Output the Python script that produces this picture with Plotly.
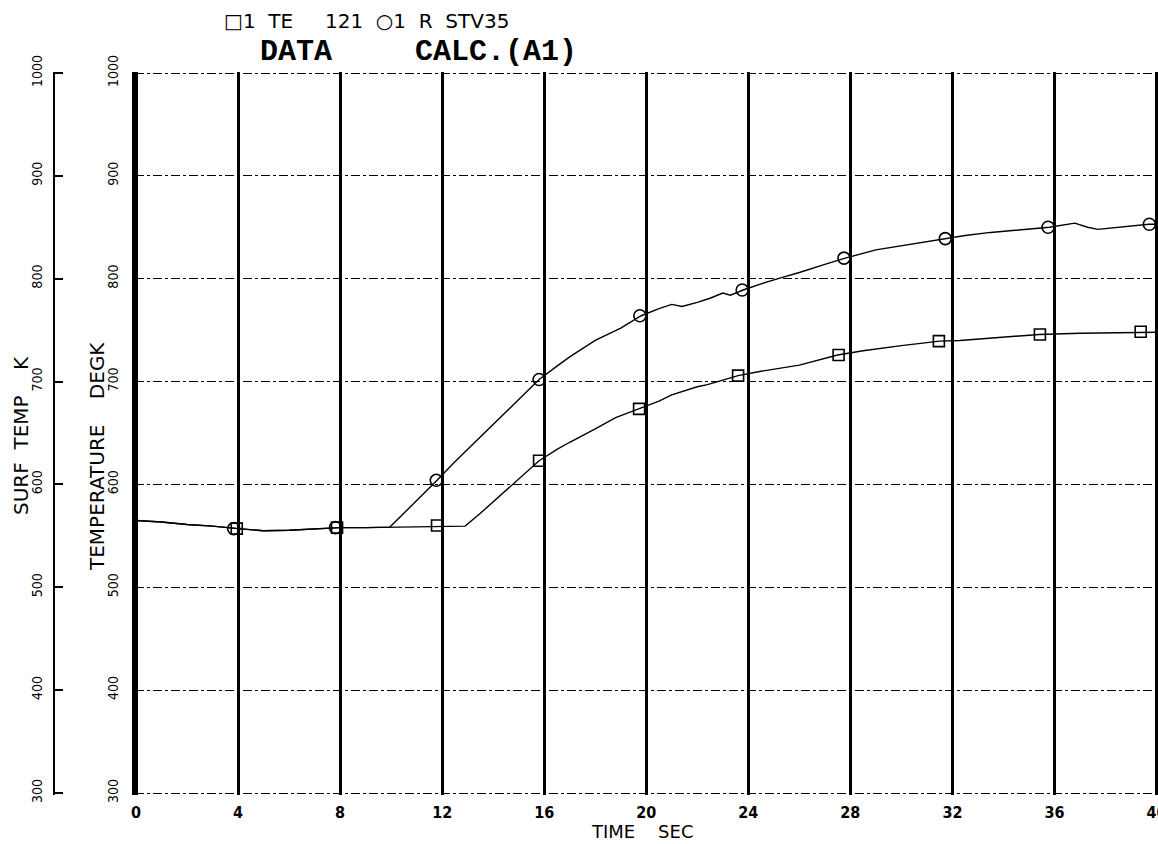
import plotly.graph_objects as go

W, H = 1158, 844

# ---- data ----
upper_t = [0, 1, 2, 3, 4, 5, 6, 7, 8, 9, 9.95, 10.5, 11, 11.8, 12.5, 13, 14, 15, 15.8,
           16.5, 17, 18, 18.5, 19, 19.8, 20.5, 21, 21.4, 22, 22.5, 23, 23.3, 23.8, 24.5,
           25.3, 26, 27, 27.8, 29, 30, 31, 31.7, 32.5, 33.5, 35, 35.8, 36.8, 37.3, 37.7,
           38.5, 39.7, 40]
upper_v = [565, 563.5, 561, 559.5, 557, 555, 555.5, 557, 558, 558, 558.5, 572, 584, 604,
           622, 634, 658, 682, 702, 715, 724, 740, 746, 752, 764, 771, 775, 773, 777, 781,
           786, 784, 789, 795, 801, 806, 814, 820, 828, 832, 836, 839, 842, 845, 848, 850,
           854, 850, 848, 850, 853, 853]

lower_t = [0, 1, 2, 3, 4, 5, 6, 7, 8, 9, 10, 11, 12, 12.9, 13.5, 14, 14.5, 15, 15.8,
           16.5, 17, 18, 18.8, 19.7, 20.5, 21, 22, 22.4, 23.6, 24.5, 26, 27.5, 28.5, 30,
           31.5, 32.3, 34, 35.4, 37, 38.5, 39.4, 40]
lower_v = [565, 563.5, 561, 559.5, 557, 555, 555.5, 557, 558, 558, 558.5, 559, 559, 559.5,
           572, 583, 594, 605, 623, 634, 641, 654, 665, 673.5, 681, 687, 695, 697, 705.8,
           710, 716, 725.8, 730, 735, 739.3, 740, 743, 745.8, 747, 747.5, 748.4, 748]

circle_t = [3.83, 7.82, 11.77, 15.8, 19.75, 23.76, 27.75, 31.72, 35.75, 39.72]
circle_v = [557, 558, 604, 702, 764, 789, 820, 839, 850, 853]

square_t = [3.95, 7.88, 11.8, 15.8, 19.72, 23.6, 27.54, 31.47, 35.43, 39.38]
square_v = [557, 558, 560, 623, 673.5, 705.8, 725.8, 739.3, 745.8, 748.4]

x_ticks = [0, 4, 8, 12, 16, 20, 24, 28, 32, 36, 40]
x_tick_labels = ["0", "4", "8", "12", "16", "20", "24", "28", "32", "36", "40"]
y_ticks = [300, 400, 500, 600, 700, 800, 900, 1000]
y_tick_labels = ["300", "400", "500", "600", "700", "800", "900", "1000"]

header_text = "□1  TE     121  ○1  R  STV35"
title_left = "DATA"
title_right = "CALC.(A1)"
x_title = "TIME    SEC"
y_title_inner = "TEMPERATURE    DEGK"
y_title_outer = "SURF  TEMP    K"

# ---- styles ----
NARROW = "Liberation Sans Narrow, DejaVu Sans Condensed, Arial Narrow, sans-serif"
SANS = "DejaVu Sans, sans-serif"
MONO = "Liberation Mono, Courier New, DejaVu Sans Mono, monospace"

# plot frame in pixels: t=0 at 136, t=40 at 1156.5; 1000 K at 73, 300 K at 793
X0, X40 = 136.0, 1156.5
Y300, Y1000 = 793.0, 73.0
sx = (X40 - X0) / 40.0
sy = (Y300 - Y1000) / 700.0
PADPX = 1.5
x_range = [-PADPX / sx, 40 + PADPX / sx]
y_range = [300 - PADPX / sy, 1000 + PADPX / sy]
x_dom = [(X0 - PADPX) / W, min(1.0, (X40 + PADPX) / W)]
y_dom = [1 - (Y300 + PADPX) / H, 1 - (Y1000 - PADPX) / H]

fig = go.Figure()
fig.add_trace(go.Scatter(x=upper_t, y=upper_v, mode="lines",
                         line=dict(color="black", width=1.4), showlegend=False, hoverinfo="skip"))
fig.add_trace(go.Scatter(x=lower_t, y=lower_v, mode="lines",
                         line=dict(color="black", width=1.4), showlegend=False, hoverinfo="skip"))
fig.add_trace(go.Scatter(x=circle_t, y=circle_v, mode="markers",
                         marker=dict(symbol="circle-open", size=12, color="black",
                                     line=dict(width=1.6, color="black")),
                         showlegend=False))
fig.add_trace(go.Scatter(x=square_t, y=square_v, mode="markers",
                         marker=dict(symbol="square-open", size=11, color="black",
                                     line=dict(width=1.6, color="black")),
                         showlegend=False))
# same data on the outer (SURF TEMP) axis, invisible, so that axis is drawn
fig.add_trace(go.Scatter(x=circle_t, y=circle_v, mode="markers", yaxis="y2",
                         marker=dict(opacity=0), showlegend=False, hoverinfo="skip"))

fig.update_layout(
    width=W, height=H,
    margin=dict(l=0, r=0, t=0, b=0),
    paper_bgcolor="white", plot_bgcolor="white",
    showlegend=False,
    xaxis=dict(domain=x_dom, range=x_range, tickmode="array",
               tickvals=x_ticks, ticktext=x_tick_labels,
               showgrid=True, gridcolor="black", gridwidth=2.5,
               zeroline=False, showline=False, ticks="",
               tickfont=dict(family=NARROW, size=16, color="black", weight="bold"),
               ticklabelstandoff=6, ticklabeloverflow="allow", automargin=False),
    yaxis=dict(domain=y_dom, range=y_range, tickmode="array",
               tickvals=y_ticks, ticktext=y_tick_labels,
               showgrid=True, gridcolor="black", gridwidth=1.3, griddash="dashdot",
               showline=True, linecolor="black", linewidth=2.5,
               zeroline=False, ticks="", tickangle=-90,
               tickfont=dict(family=NARROW, size=14, color="black"),
               ticklabelstandoff=8, automargin=False),
    yaxis2=dict(overlaying="y", anchor="free", position=54 / W, side="left",
                range=y_range, tickmode="array", tickvals=y_ticks, ticktext=y_tick_labels,
                showgrid=False, showline=True, linecolor="black", linewidth=1.5,
                zeroline=False, ticks="inside", ticklen=8, tickwidth=1.5, tickcolor="black",
                tickangle=-90, tickfont=dict(family=NARROW, size=14, color="black"),
                ticklabelstandoff=6, automargin=False),
)

def px(x):
    return x / W

def py(y):
    return 1 - y / H

annotations = [
    dict(text=header_text, x=px(222), y=py(21), xanchor="left", yanchor="middle",
         font=dict(family=SANS, size=20, color="black")),
    dict(text="<b>" + title_left + "</b>", x=px(258), y=py(52), xanchor="left", yanchor="middle",
         font=dict(family=MONO, size=30, color="black")),
    dict(text="<b>" + title_right + "</b>", x=px(413), y=py(52), xanchor="left", yanchor="middle",
         font=dict(family=MONO, size=30, color="black")),
    dict(text=x_title, x=px(642), y=0, xanchor="center", yanchor="bottom",
         font=dict(family=SANS, size=18, color="black")),
    dict(text=y_title_inner, x=px(97), y=py(457), xanchor="center", yanchor="middle",
         textangle=-90, font=dict(family=SANS, size=20, color="black")),
    dict(text=y_title_outer, x=px(21), y=py(436), xanchor="center", yanchor="middle",
         textangle=-90, font=dict(family=SANS, size=20, color="black")),
]
for a in annotations:
    a.update(xref="paper", yref="paper", showarrow=False)
fig.update_layout(annotations=annotations)

fig.write_html("out.html")
